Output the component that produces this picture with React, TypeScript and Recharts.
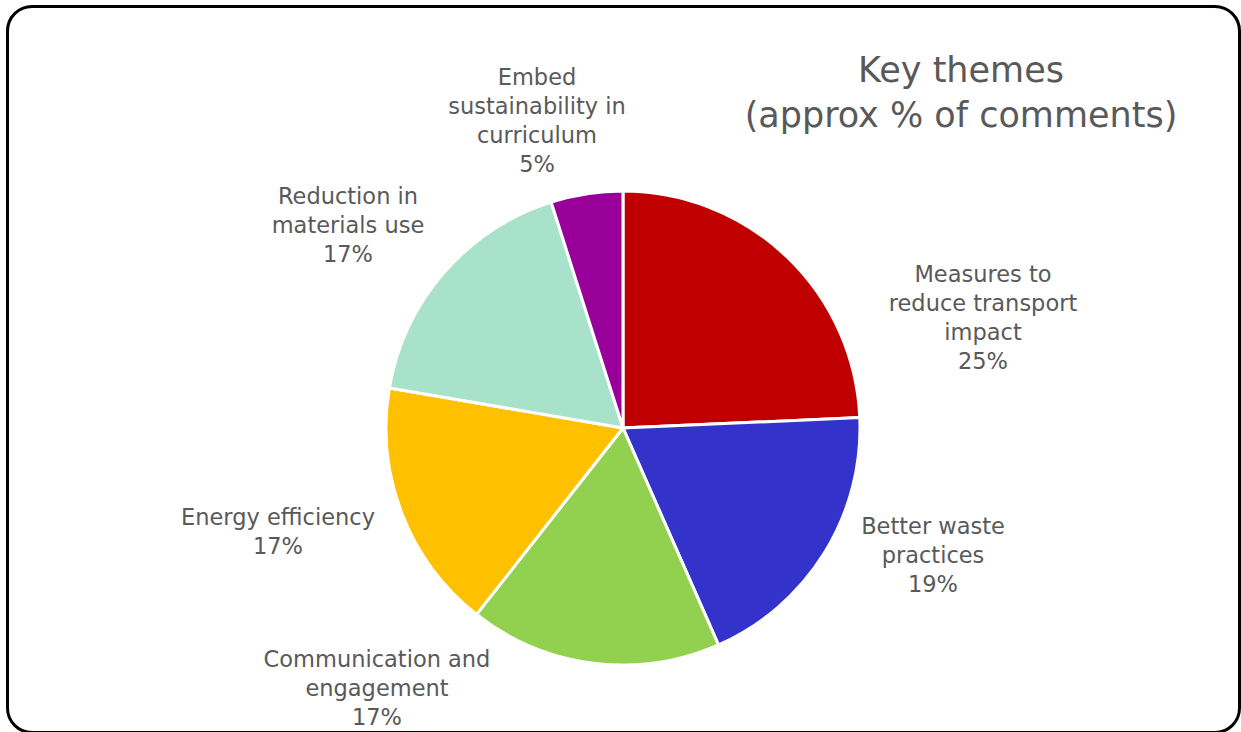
import React from "react";
import { PieChart, Pie, Cell } from "recharts";

const categories = [
  "Measures to reduce transport impact",
  "Better waste practices",
  "Communication and engagement",
  "Energy efficiency",
  "Reduction in materials use",
  "Embed sustainability in curriculum",
];
// slice sizes
const values = [24.3, 19.1, 17.2, 17.1, 17.4, 4.9];
// percentages as printed on the chart
const percentLabels = ["25%", "19%", "17%", "17%", "17%", "5%"];
const labelLines = [
  ["Measures to", "reduce transport", "impact"],
  ["Better waste", "practices"],
  ["Communication and", "engagement"],
  ["Energy efficiency"],
  ["Reduction in", "materials use"],
  ["Embed", "sustainability in", "curriculum"],
];
const colors = ["#C00000", "#3333CC", "#92D050", "#FFC000", "#A9E2CA", "#990099"];
// label centre offsets from pie centre (layout only)
const labelOffsets = [
  [360, -111],
  [310, 127],
  [-246, 260],
  [-345, 103],
  [-275, -203],
  [-86, -308],
];

const data = categories.map((name, i) => ({ name, value: values[i] }));

const FONT = "'DejaVu Sans', sans-serif";
const TEXT_COLOR = "#595959";
const LINE_H = 29;

const renderLabel = (props: any) => {
  const { cx, cy, index } = props;
  const lines = [...labelLines[index], percentLabels[index]];
  const [dx, dy] = labelOffsets[index];
  const x = cx + dx;
  const yc = cy + dy;
  const y0 = yc - ((lines.length - 1) * LINE_H) / 2;
  return (
    <text
      key={`lbl-${index}`}
      x={x}
      y={y0}
      textAnchor="middle"
      dominantBaseline="central"
      fill={TEXT_COLOR}
      fontFamily={FONT}
      fontSize={22.5}
    >
      {lines.map((l, i) => (
        <tspan key={i} x={x} y={y0 + i * LINE_H} dominantBaseline="central">
          {l}
        </tspan>
      ))}
    </text>
  );
};

export default function App() {
  return (
    <div
      style={{
        position: "fixed",
        left: 0,
        top: 0,
        width: 1241,
        height: 732,
        background: "#fff",
        overflow: "hidden",
      }}
    >
      <div
        style={{
          position: "absolute",
          left: 6,
          top: 5,
          width: 1229,
          height: 723,
          border: "3px solid #000",
          borderRadius: 26,
        }}
      />
      <div
        style={{
          position: "absolute",
          left: 700,
          top: 48,
          width: 522,
          textAlign: "center",
          fontFamily: FONT,
          fontSize: 35,
          lineHeight: "45px",
          color: TEXT_COLOR,
        }}
      >
        Key themes
        <br />
        (approx % of comments)
      </div>
      <div style={{ position: "absolute", left: 0, top: 0 }}>
        <PieChart width={1241} height={732} margin={{ top: 0, right: 0, bottom: 0, left: 0 }}>
          <Pie
            data={data}
            dataKey="value"
            nameKey="name"
            cx={623}
            cy={428}
            outerRadius={237}
            startAngle={90}
            endAngle={-270}
            stroke="#ffffff"
            strokeWidth={3}
            label={renderLabel}
            labelLine={false}
            isAnimationActive={false}
          >
            {data.map((d, i) => (
              <Cell key={d.name} fill={colors[i]} />
            ))}
          </Pie>
        </PieChart>
      </div>
    </div>
  );
}
